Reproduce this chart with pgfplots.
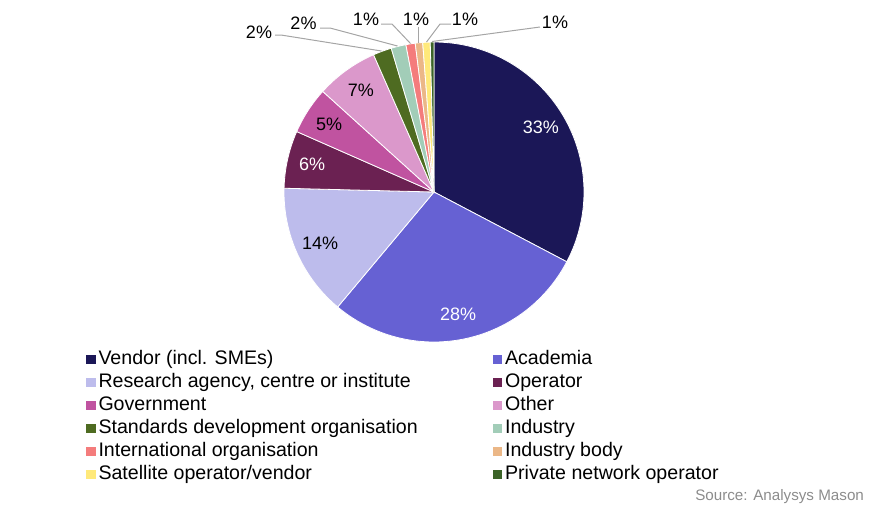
\documentclass[border=0pt]{standalone}
\usepackage{pgfplots}
\pgfplotsset{compat=1.18}
\usepackage{pgfplotstable}
\usepackage{fontspec}
\setmainfont{Liberation Sans}

\definecolor{vendorc}{RGB}{27,23,87}
\definecolor{acadc}{RGB}{102,97,211}
\definecolor{researchc}{RGB}{189,188,236}
\definecolor{operc}{RGB}{107,33,82}
\definecolor{govc}{RGB}{192,83,160}
\definecolor{otherc}{RGB}{219,152,203}
\definecolor{stdc}{RGB}{78,107,33}
\definecolor{indc}{RGB}{162,205,184}
\definecolor{intlc}{RGB}{244,124,124}
\definecolor{bodyc}{RGB}{235,183,135}
\definecolor{satc}{RGB}{255,233,122}
\definecolor{privc}{RGB}{60,100,40}
\definecolor{leader}{RGB}{165,165,165}
\definecolor{srcgray}{RGB}{140,140,140}

\newcommand\labfont{\fontsize{9}{10}\selectfont}
\newcommand\legfont{\fontsize{9.8}{11}\selectfont}

% share of respondents (%), clockwise from 12 o'clock
\pgfplotstableread{
value col lab labcol
32.7 vendorc 33 white
28.4 acadc 28 white
14.3 researchc 14 black
6.2 operc 6 white
5.1 govc 5 black
6.7 otherc 7 black
2.0 stdc 2 none
1.6 indc 2 none
1.0 intlc 1 none
0.8 bodyc 1 none
0.8 satc 1 none
0.4 privc 1 none
}\piedata

\pgfplotsset{
  sqleg/.style={legend image code/.code={\fill[##1] (0pt,-2.3pt) rectangle (4.6pt,2.3pt);}},
  smallsq/.style={legend image code/.code={\path (0pt,-2.3pt) rectangle (4.6pt,2.3pt);\fill[##1] (0.85pt,-1.45pt) rectangle (3.75pt,1.45pt);}},
}

\begin{document}
\begin{tikzpicture}
\begin{axis}[
    scale only axis,
    width=440pt, height=255.5pt,
    xmin=0, xmax=880, ymin=0, ymax=511,
    y dir=reverse,
    hide axis,
    clip=false,
    legend columns=2,
    legend cell align=left,
    legend style={
        at={(axis cs:86,347.5)}, anchor=north west,
        draw=none, fill=none, inner sep=0pt,
        font=\legfont, row sep=0pt,
        nodes={inner sep=1.45pt, text height=6.8pt, text depth=1.8pt},
        /tikz/every odd column/.style={column sep=0pt},
        /tikz/every even column/.style={column sep=0pt},
    },
]
\path (axis cs:0,0) rectangle (axis cs:880,511);

\def\pieCum{0}
\pgfplotsforeachungrouped \i in {0,...,11}{%
  \pgfplotstablegetelem{\i}{value}\of\piedata \let\pieV=\pgfplotsretval
  \pgfplotstablegetelem{\i}{col}\of\piedata \let\pieC=\pgfplotsretval
  \pgfmathsetmacro\pieA{90-3.6*\pieCum}
  \pgfmathsetmacro\pieB{90-3.6*(\pieCum+\pieV)}
  \pgfmathsetmacro\pieM{(\pieA+\pieB)/2}
  \edef\temp{\noexpand\fill[fill=\pieC, draw=white, line width=0.4pt] (axis cs:434,192) -- ++(\pieA:75pt) arc[start angle=\pieA, end angle=\pieB, radius=75pt] -- cycle;}%
  \temp
  \ifnum\i<6
    \pgfplotstablegetelem{\i}{lab}\of\piedata \let\pieL=\pgfplotsretval
    \pgfplotstablegetelem{\i}{labcol}\of\piedata \let\pieLC=\pgfplotsretval
    \edef\temp{\noexpand\node[text=\pieLC, font=\noexpand\labfont] at ([shift={(\pieM:62.5pt)}]axis cs:434,192) {\pieL\noexpand\%};}%
    \temp
  \fi
  \pgfmathsetmacro\pieCum{\pieCum+\pieV}
}

% leader lines for the small slices
\draw[leader, line width=0.5pt] (axis cs:275,35) -- (axis cs:281,35) -- (axis cs:381.5,51);
\draw[leader, line width=0.5pt] (axis cs:320,28) -- (axis cs:330,28) -- (axis cs:397.5,46);
\draw[leader, line width=0.5pt] (axis cs:381,24) -- (axis cs:392,24) -- (axis cs:410.5,43.5);
\draw[leader, line width=0.5pt] (axis cs:418.5,27) -- (axis cs:418.5,42.5);
\draw[leader, line width=0.5pt] (axis cs:451,24) -- (axis cs:440,24) -- (axis cs:426.5,42);
\draw[leader, line width=0.5pt] (axis cs:540,27) -- (axis cs:432,41.5);
\node[font=\labfont] at (axis cs:259,32) {2\%};
\node[font=\labfont] at (axis cs:303.5,23.5) {2\%};
\node[font=\labfont] at (axis cs:366,19) {1\%};
\node[font=\labfont] at (axis cs:416,19) {1\%};
\node[font=\labfont] at (axis cs:465,19) {1\%};
\node[font=\labfont] at (axis cs:555,22.5) {1\%};

\node[anchor=east, text=srcgray, font=\fontsize{7.6}{9}\selectfont] at (axis cs:871,497) {Source: Analysys Mason};

\addlegendimage{sqleg, fill=vendorc, draw=none}
\addlegendimage{sqleg, fill=acadc, draw=none}
\addlegendimage{sqleg, fill=researchc, draw=none}
\addlegendimage{sqleg, fill=operc, draw=none}
\addlegendimage{sqleg, fill=govc, draw=none}
\addlegendimage{sqleg, fill=otherc, draw=none}
\addlegendimage{sqleg, fill=stdc, draw=none}
\addlegendimage{sqleg, fill=indc, draw=none}
\addlegendimage{sqleg, fill=intlc, draw=none}
\addlegendimage{sqleg, fill=bodyc, draw=none}
\addlegendimage{sqleg, fill=satc, draw=none}
\addlegendimage{smallsq, fill=privc, draw=none}
\legend{\makebox[195.8pt][l]{Vendor (incl. SMEs)}, Academia,
        \makebox[195.8pt][l]{Research agency, centre or institute}, Operator,
        \makebox[195.8pt][l]{Government}, Other,
        \makebox[195.8pt][l]{Standards development organisation}, Industry,
        \makebox[195.8pt][l]{International organisation}, Industry body,
        \makebox[195.8pt][l]{Satellite operator/vendor}, Private network operator}
\end{axis}
\end{tikzpicture}
\end{document}
